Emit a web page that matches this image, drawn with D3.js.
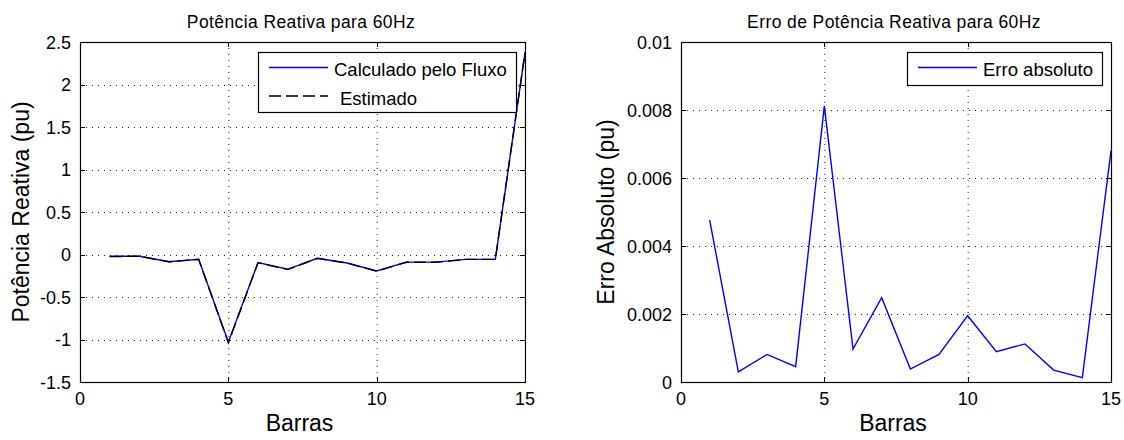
<!DOCTYPE html>
<html>
<head>
<meta charset="utf-8">
<script src="https://cdn.jsdelivr.net/npm/d3@7"></script>
<style>
  html, body { margin: 0; padding: 0; background: #fff; }
  svg { display: block; font-family: Arial, "Liberation Sans", Helvetica, sans-serif; }
</style>
</head>
<body>
<svg id="chart" width="1124" height="440"></svg>
<script>
// Bus numbers (Barras)
const buses = [1, 2, 3, 4, 5, 6, 7, 8, 9, 10, 11, 12, 13, 14, 15];

// Reactive power from the power-flow solution (pu)
const qFlow = [-0.020, -0.020, -0.085, -0.057, -1.030, -0.096, -0.174, -0.045, -0.100, -0.194, -0.090, -0.090, -0.057, -0.057, 2.372];

// Reactive power from the estimator (pu)
const qEst = [-0.0247, -0.0203, -0.0858, -0.0575, -1.0381, -0.0970, -0.1765, -0.0454, -0.1008, -0.1960, -0.0909, -0.0911, -0.0574, -0.0571, 2.3788];

// Absolute error between the two (pu)
const absErr = [0.00476, 0.00030, 0.00081, 0.00045, 0.00812, 0.00097, 0.00248, 0.00038, 0.00081, 0.00195, 0.00089, 0.00112, 0.00035, 0.00013, 0.00680];

// Axis ticks
const xTicks = [0, 5, 10, 15];
const xTickLabels = ["0", "5", "10", "15"];
const qTicks = [-1.5, -1, -0.5, 0, 0.5, 1, 1.5, 2, 2.5];
const qTickLabels = ["-1.5", "-1", "-0.5", "0", "0.5", "1", "1.5", "2", "2.5"];
const errTicks = [0, 0.002, 0.004, 0.006, 0.008, 0.01];
const errTickLabels = ["0", "0.002", "0.004", "0.006", "0.008", "0.01"];

const svg = d3.select("#chart");

function drawPanel(cfg) {
  const { left, right, top, bottom } = cfg;
  const x = d3.scaleLinear().domain([0, 15]).range([left, right]);
  const y = d3.scaleLinear().domain(cfg.yDomain).range([bottom, top]);
  const g = svg.append("g");

  // dotted grid
  const gridStyle = s => s.attr("stroke", "#222").attr("stroke-width", 1)
    .attr("stroke-dasharray", "1,5").attr("fill", "none");
  g.selectAll(".gx").data(xTicks.filter(d => d > 0 && d < 15)).enter().append("line")
    .attr("x1", d => x(d) + 0.5).attr("x2", d => x(d) + 0.5)
    .attr("y1", top).attr("y2", bottom).call(gridStyle);
  g.selectAll(".gy").data(cfg.yTicks.filter(d => d > cfg.yDomain[0] && d < cfg.yDomain[1])).enter().append("line")
    .attr("x1", left).attr("x2", right)
    .attr("y1", d => Math.round(y(d)) + 0.5).attr("y2", d => Math.round(y(d)) + 0.5).call(gridStyle);

  // inward tick marks on all four sides
  const tl = 5;
  const tickStyle = s => s.attr("stroke", "#000").attr("stroke-width", 1);
  xTicks.forEach(d => {
    const xp = Math.round(x(d)) + 0.5;
    g.append("line").attr("x1", xp).attr("x2", xp).attr("y1", bottom).attr("y2", bottom - tl).call(tickStyle);
    g.append("line").attr("x1", xp).attr("x2", xp).attr("y1", top).attr("y2", top + tl).call(tickStyle);
  });
  cfg.yTicks.forEach(d => {
    const yp = Math.round(y(d)) + 0.5;
    g.append("line").attr("x1", left).attr("x2", left + tl).attr("y1", yp).attr("y2", yp).call(tickStyle);
    g.append("line").attr("x1", right).attr("x2", right - tl).attr("y1", yp).attr("y2", yp).call(tickStyle);
  });

  // tick labels
  g.selectAll(".xl").data(xTicks).enter().append("text")
    .attr("x", d => x(d)).attr("y", bottom + 23)
    .attr("text-anchor", "middle").attr("font-size", 18)
    .text((d, i) => xTickLabels[i]);
  g.selectAll(".yl").data(cfg.yTicks).enter().append("text")
    .attr("x", left - 9).attr("y", d => y(d) + 6.5)
    .attr("text-anchor", "end").attr("font-size", 18)
    .text((d, i) => cfg.yTickLabels[i]);

  // data lines
  const line = ys => d3.line().x((d, i) => x(d)).y((d, i) => y(ys[i]))(buses);
  cfg.series.forEach(s => {
    g.append("path").attr("d", line(s.values))
      .attr("fill", "none").attr("stroke", s.color).attr("stroke-width", 1.4)
      .attr("stroke-dasharray", s.dash || null);
  });

  // axes box
  g.append("rect").attr("x", left + 0.5).attr("y", top + 0.5)
    .attr("width", right - left).attr("height", bottom - top)
    .attr("fill", "none").attr("stroke", "#000").attr("stroke-width", 1.2);

  // title and axis labels
  g.append("text").attr("x", cfg.titleX).attr("y", 28).attr("text-anchor", "middle")
    .attr("font-size", 17.5).attr("letter-spacing", 0.4).text(cfg.title);
  g.append("text").attr("x", (left + right) / 2 - 3).attr("y", 431).attr("text-anchor", "middle")
    .attr("font-size", 23).text("Barras");
  g.append("text").attr("transform", `translate(${cfg.ylabelX},${(top + bottom) / 2}) rotate(-90)`)
    .attr("text-anchor", "middle").attr("font-size", 23).text(cfg.ylabel);

  // legend
  const L = cfg.legend;
  g.append("rect").attr("x", L.x + 0.5).attr("y", L.y + 0.5).attr("width", L.w).attr("height", L.h)
    .attr("fill", "#fff").attr("stroke", "#000").attr("stroke-width", 1.2);
  L.items.forEach((it, i) => {
    const ly = L.y + 15.5 + i * 28.5;
    g.append("line").attr("x1", L.x + 11).attr("x2", L.x + 70).attr("y1", ly).attr("y2", ly)
      .attr("stroke", it.color).attr("stroke-width", 1.4).attr("stroke-dasharray", it.dash || null);
    g.append("text").attr("x", L.x + 76 + (it.textShift || 0)).attr("y", ly + 8.5)
      .attr("font-size", 18.5).text(it.label);
  });
}

drawPanel({
  left: 80, right: 525, top: 42, bottom: 382,
  yDomain: [-1.5, 2.5], yTicks: qTicks, yTickLabels: qTickLabels,
  title: "Potência Reativa para 60Hz", titleX: 301,
  ylabel: "Potência Reativa (pu)", ylabelX: 29,
  series: [
    { values: qFlow, color: "#0000ff" },
    { values: qEst, color: "#000", dash: "12,5" }
  ],
  legend: { x: 258, y: 52, w: 258, h: 60, items: [
    { label: "Calculado pelo Fluxo", color: "#0000ff" },
    { label: "Estimado", color: "#000", dash: "12,5", textShift: 6 }
  ] }
});

drawPanel({
  left: 681, right: 1111, top: 42, bottom: 382,
  yDomain: [0, 0.01], yTicks: errTicks, yTickLabels: errTickLabels,
  title: "Erro de Potência Reativa para 60Hz", titleX: 894,
  ylabel: "Erro Absoluto (pu)", ylabelX: 614,
  series: [
    { values: absErr, color: "#0000ff" }
  ],
  legend: { x: 907, y: 52, w: 195, h: 33, items: [
    { label: "Erro absoluto", color: "#0000ff" }
  ] }
});
</script>
</body>
</html>
